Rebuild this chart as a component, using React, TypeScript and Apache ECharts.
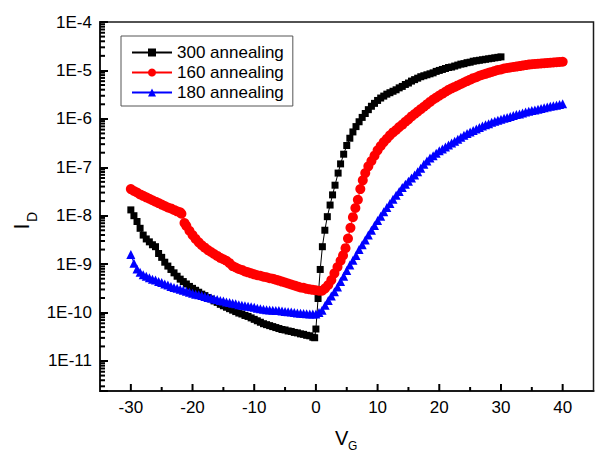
import React, { useEffect, useRef } from 'react';
import * as echarts from 'echarts';

// ---- data (V_G in volts, log10 of I_D in amperes) ----
const vg300 = [-30, -29.5, -29, -28.5, -28, -27.5, -27, -26.5, -26, -25.5, -25, -24.5, -24, -23.5, -23, -22.5, -22, -21.5, -21, -20.5, -20, -19.5, -19, -18.5, -18, -17.5, -17, -16.5, -16, -15.5, -15, -14.5, -14, -13.5, -13, -12.5, -12, -11.5, -11, -10.5, -10, -9.5, -9, -8.5, -8, -7.5, -7, -6.5, -6, -5.5, -5, -4.5, -4, -3.5, -3, -2.5, -2, -1.5, -1, -0.5, -0.2, 0, 0.35, 0.7, 1.05, 1.45, 1.85, 2.3, 2.7, 3.1, 3.6, 4, 4.5, 5, 5.5, 6, 6.5, 7, 7.5, 8, 8.5, 9, 9.5, 10, 10.5, 11, 11.5, 12, 12.5, 13, 13.5, 14, 14.5, 15, 15.5, 16, 16.5, 17, 17.5, 18, 18.5, 19, 19.5, 20, 20.5, 21, 21.5, 22, 22.5, 23, 23.5, 24, 24.5, 25, 25.5, 26, 26.5, 27, 27.5, 28, 28.5, 29, 29.5, 30];
const logId300 = [-7.88, -8.0, -8.12, -8.26, -8.4, -8.48, -8.54, -8.6, -8.64, -8.78, -8.86, -8.96, -9.04, -9.11, -9.18, -9.25, -9.31, -9.36, -9.41, -9.46, -9.5, -9.54, -9.58, -9.62, -9.65, -9.69, -9.72, -9.76, -9.79, -9.83, -9.86, -9.89, -9.92, -9.95, -9.98, -10.01, -10.03, -10.06, -10.08, -10.11, -10.14, -10.17, -10.2, -10.23, -10.25, -10.27, -10.29, -10.31, -10.33, -10.35, -10.36, -10.38, -10.39, -10.41, -10.42, -10.44, -10.45, -10.47, -10.48, -10.51, -10.52, -10.34, -9.71, -9.11, -8.64, -8.3, -8.02, -7.78, -7.57, -7.37, -7.12, -6.93, -6.73, -6.55, -6.4, -6.27, -6.16, -6.06, -5.97, -5.89, -5.81, -5.74, -5.68, -5.62, -5.57, -5.53, -5.49, -5.46, -5.43, -5.4, -5.36, -5.33, -5.29, -5.26, -5.22, -5.19, -5.16, -5.13, -5.11, -5.09, -5.07, -5.05, -5.02, -5.0, -4.98, -4.96, -4.94, -4.93, -4.91, -4.89, -4.87, -4.86, -4.84, -4.83, -4.81, -4.8, -4.79, -4.78, -4.77, -4.76, -4.75, -4.74, -4.73, -4.72];

const vg160 = [-30, -29.5, -29, -28.5, -28, -27.5, -27, -26.5, -26, -25.5, -25, -24.5, -24, -23.5, -23, -22.5, -22, -21.8, -21.3, -21, -20.5, -20, -19.5, -19, -18.5, -18, -17.5, -17, -16.5, -16, -15.5, -15, -14.5, -14, -13.5, -13, -12.5, -12, -11.5, -11, -10.5, -10, -9.5, -9, -8.5, -8, -7.5, -7, -6.5, -6, -5.5, -5, -4.5, -4, -3.5, -3, -2.5, -2, -1.5, -1, -0.5, 0, 0.5, 1, 1.5, 2, 2.5, 3, 3.5, 4, 4.4, 4.8, 5.2, 5.6, 6, 6.4, 6.8, 7.2, 7.6, 8, 8.5, 9, 9.5, 10, 10.5, 11, 11.5, 12, 12.5, 13, 13.5, 14, 14.5, 15, 15.5, 16, 16.5, 17, 17.5, 18, 18.5, 19, 19.5, 20, 20.5, 21, 21.5, 22, 22.5, 23, 23.5, 24, 24.5, 25, 25.5, 26, 26.5, 27, 27.5, 28, 28.5, 29, 29.5, 30, 30.5, 31, 31.5, 32, 32.5, 33, 33.5, 34, 34.5, 35, 35.5, 36, 36.5, 37, 37.5, 38, 38.5, 39, 39.5, 40];
const logId160 = [-7.45, -7.49, -7.52, -7.56, -7.59, -7.62, -7.65, -7.68, -7.71, -7.74, -7.77, -7.8, -7.83, -7.85, -7.88, -7.91, -7.93, -7.96, -8.15, -8.21, -8.31, -8.4, -8.48, -8.55, -8.61, -8.66, -8.71, -8.75, -8.79, -8.83, -8.87, -8.9, -8.93, -8.98, -9.04, -9.07, -9.1, -9.12, -9.15, -9.17, -9.19, -9.21, -9.23, -9.24, -9.26, -9.27, -9.29, -9.3, -9.32, -9.34, -9.36, -9.38, -9.4, -9.42, -9.44, -9.46, -9.48, -9.49, -9.51, -9.52, -9.53, -9.54, -9.55, -9.55, -9.5, -9.43, -9.33, -9.19, -9.06, -8.93, -8.82, -8.67, -8.47, -8.25, -8.03, -7.84, -7.67, -7.45, -7.27, -7.12, -6.98, -6.87, -6.76, -6.65, -6.56, -6.48, -6.41, -6.34, -6.28, -6.23, -6.17, -6.12, -6.06, -6.01, -5.95, -5.9, -5.85, -5.8, -5.75, -5.7, -5.65, -5.6, -5.56, -5.52, -5.48, -5.44, -5.4, -5.37, -5.34, -5.31, -5.28, -5.25, -5.22, -5.19, -5.16, -5.14, -5.11, -5.09, -5.07, -5.05, -5.03, -5.01, -4.99, -4.98, -4.96, -4.95, -4.94, -4.93, -4.92, -4.91, -4.9, -4.89, -4.88, -4.87, -4.865, -4.86, -4.855, -4.85, -4.845, -4.84, -4.835, -4.83, -4.825, -4.82];

const vg180 = [-30, -29.5, -29, -28.5, -28, -27.5, -27, -26.5, -26, -25.5, -25, -24.5, -24, -23.5, -23, -22.5, -22, -21.5, -21, -20.5, -20, -19.5, -19, -18.5, -18, -17.5, -17, -16.5, -16, -15.5, -15, -14.5, -14, -13.5, -13, -12.5, -12, -11.5, -11, -10.5, -10, -9.5, -9, -8.5, -8, -7.5, -7, -6.5, -6, -5.5, -5, -4.5, -4, -3.5, -3, -2.5, -2, -1.5, -1, -0.5, 0, 0.5, 1, 1.5, 2, 2.5, 3, 3.5, 4, 4.5, 5, 5.5, 6, 6.5, 7, 7.5, 8, 8.5, 9, 9.5, 10, 10.5, 11, 11.5, 12, 12.5, 13, 13.5, 14, 14.5, 15, 15.5, 16, 16.5, 17, 17.5, 18, 18.5, 19, 19.5, 20, 20.5, 21, 21.5, 22, 22.5, 23, 23.5, 24, 24.5, 25, 25.5, 26, 26.5, 27, 27.5, 28, 28.5, 29, 29.5, 30, 30.5, 31, 31.5, 32, 32.5, 33, 33.5, 34, 34.5, 35, 35.5, 36, 36.5, 37, 37.5, 38, 38.5, 39, 39.5, 40];
const logId180 = [-8.8, -8.98, -9.1, -9.17, -9.22, -9.25, -9.28, -9.31, -9.33, -9.36, -9.38, -9.41, -9.43, -9.46, -9.48, -9.5, -9.52, -9.54, -9.56, -9.58, -9.6, -9.62, -9.63, -9.65, -9.67, -9.69, -9.7, -9.72, -9.73, -9.75, -9.76, -9.78, -9.79, -9.81, -9.82, -9.84, -9.85, -9.86, -9.87, -9.88, -9.89, -9.91, -9.92, -9.93, -9.94, -9.945, -9.95, -9.955, -9.96, -9.97, -9.98, -9.985, -9.99, -10.0, -10.01, -10.015, -10.02, -10.025, -10.03, -10.03, -10.03, -10.0, -9.95, -9.85, -9.75, -9.66, -9.57, -9.47, -9.36, -9.25, -9.13, -9.02, -8.92, -8.82, -8.7, -8.6, -8.5, -8.4, -8.3, -8.2, -8.1, -8.01, -7.92, -7.83, -7.75, -7.66, -7.58, -7.5, -7.42, -7.35, -7.29, -7.22, -7.16, -7.09, -7.02, -6.94, -6.87, -6.81, -6.76, -6.71, -6.66, -6.62, -6.58, -6.54, -6.5, -6.46, -6.42, -6.38, -6.34, -6.3, -6.27, -6.24, -6.21, -6.18, -6.15, -6.12, -6.1, -6.07, -6.05, -6.03, -6.01, -5.99, -5.97, -5.95, -5.93, -5.91, -5.9, -5.88, -5.86, -5.845, -5.83, -5.815, -5.8, -5.785, -5.77, -5.755, -5.74, -5.73, -5.72, -5.705, -5.69];

const seriesNames = ['300 annealing', '160 annealing', '180 annealing'];

// ---- axes ----
const X_MIN = -35;
const X_MAX = 45;
const Y_MIN = 2.4e-12;
const Y_MAX = 1e-4;
const xMajorTicks = [-30, -20, -10, 0, 10, 20, 30, 40];
const xMinorTicks = [-25, -15, -5, 5, 15, 25, 35];
const minorMantissas = [2, 3, 4, 5, 6, 7, 8, 9];
const decades = [-12, -11, -10, -9, -8, -7, -6, -5];

const FONT = 'Arial, "Liberation Sans", sans-serif';
const AXIS_COLOR = '#1a1a1a';
const TICK_COLOR = '#000';

function toPairs(vs: number[], logs: number[]) {
  return vs.map((v, i) => [v, Math.pow(10, logs[i])]);
}

const titleGraphics = [
  { type: 'text', x: 21.4, y: 226.5, rotation: Math.PI / 2, style: { text: 'I', fontSize: 22, fontFamily: FONT, fill: '#000', align: 'center', verticalAlign: 'middle' } },
  { type: 'text', x: 32.1, y: 217, rotation: Math.PI / 2, style: { text: 'D', fontSize: 14, fontFamily: FONT, fill: '#000', align: 'center', verticalAlign: 'middle' } },
  { type: 'text', x: 335, y: 428, style: { text: 'V', fontSize: 20, fontFamily: FONT, fill: '#000', align: 'left', verticalAlign: 'top' } },
  { type: 'text', x: 348, y: 440, style: { text: 'G', fontSize: 12, fontFamily: FONT, fill: '#000', align: 'left', verticalAlign: 'top' } },
];

export default function App() {
  const ref = useRef<HTMLDivElement>(null);
  useEffect(() => {
    if (!ref.current) return;
    const chart = echarts.init(ref.current, null, { renderer: 'svg' });

    const option: any = {
      animation: false,
      backgroundColor: '#fff',
      grid: {
        left: 100, right: 2.5, top: 22, bottom: 61, outerBoundsMode: 'none',
        show: true, borderColor: AXIS_COLOR, borderWidth: 1.5, backgroundColor: 'transparent',
      },
      legend: {
        data: seriesNames,
        orient: 'vertical',
        left: 121, top: 36,
        itemWidth: 40, itemHeight: 10, itemGap: 3,
        borderColor: '#555', borderWidth: 1, borderRadius: 0,
        padding: [8, 9, 5, 10],
        backgroundColor: '#fff',
        textStyle: { fontSize: 17, color: '#000', fontFamily: FONT },
      },
      xAxis: {
        type: 'value', min: X_MIN, max: X_MAX, interval: 5,
        axisLine: { show: true, onZero: false, lineStyle: { color: AXIS_COLOR, width: 2 } },
        axisTick: { show: false },
        splitLine: { show: false },
        axisLabel: {
          formatter: (v: number) => (Math.abs(v % 10) < 1e-9 ? String(v) : ''),
          fontSize: 17, color: '#000', fontFamily: FONT, margin: 8,
          showMinLabel: true, showMaxLabel: true,
        },
      },
      yAxis: {
        type: 'log', logBase: 10, min: Y_MIN, max: Y_MAX,
        axisLine: { show: true, onZero: false, lineStyle: { color: AXIS_COLOR, width: 2 } },
        axisTick: { show: true, inside: true, length: 8, lineStyle: { color: TICK_COLOR, width: 2 } },
        splitLine: { show: false },
        axisLabel: {
          formatter: (v: number) => {
            const e = Math.log10(v);
            const r = Math.round(e);
            if (Math.abs(e - r) > 1e-6) return '';
            return '1E' + r;
          },
          fontSize: 17, color: '#000', fontFamily: FONT, margin: 8,
          showMinLabel: true, showMaxLabel: true,
        },
      },
      graphic: titleGraphics,
      series: [
        {
          name: seriesNames[0], type: 'line', data: toPairs(vg300, logId300),
          symbol: 'rect', symbolSize: 7, showAllSymbol: true,
          itemStyle: { color: '#000' }, lineStyle: { color: '#000', width: 1 }, z: 3,
        },
        {
          name: seriesNames[1], type: 'line', data: toPairs(vg160, logId160),
          symbol: 'circle', symbolSize: 10, showAllSymbol: true,
          itemStyle: { color: '#ff0000' }, lineStyle: { color: '#ff0000', width: 1 }, z: 3,
        },
        {
          name: seriesNames[2], type: 'line', data: toPairs(vg180, logId180),
          symbol: 'triangle', symbolSize: 9, showAllSymbol: true,
          itemStyle: { color: '#0000ff' }, lineStyle: { color: '#0000ff', width: 1 }, z: 3,
        },
      ],
    };
    chart.setOption(option);

    // tick marks placed through the chart's own scales
    const yMinor: number[] = [];
    decades.forEach((d) => minorMantissas.forEach((m) => {
      const v = m * Math.pow(10, d);
      if (v > Y_MIN && v < Y_MAX) yMinor.push(v);
    }));
    const tickDefs: number[][] = [];
    xMajorTicks.forEach((v) => tickDefs.push([v, Y_MIN, 0, -7]));
    xMinorTicks.forEach((v) => tickDefs.push([v, Y_MIN, 0, -4]));
    yMinor.forEach((v) => tickDefs.push([X_MIN, v, 5, 0]));
    const tickGraphics = tickDefs.map((t) => {
      const p = chart.convertToPixel({ gridIndex: 0 }, [t[0], t[1]]) as number[];
      return {
        type: 'line', silent: true, z: 10,
        shape: { x1: p[0], y1: p[1], x2: p[0] + t[2], y2: p[1] + t[3] },
        style: { stroke: TICK_COLOR, lineWidth: 2 },
      };
    });
    chart.setOption({ graphic: [...titleGraphics, ...tickGraphics] });

    return () => chart.dispose();
  }, []);
  return (
    <div
      ref={ref}
      style={{ position: 'fixed', left: 0, top: 0, width: 596, height: 452, background: '#fff' }}
    />
  );
}
